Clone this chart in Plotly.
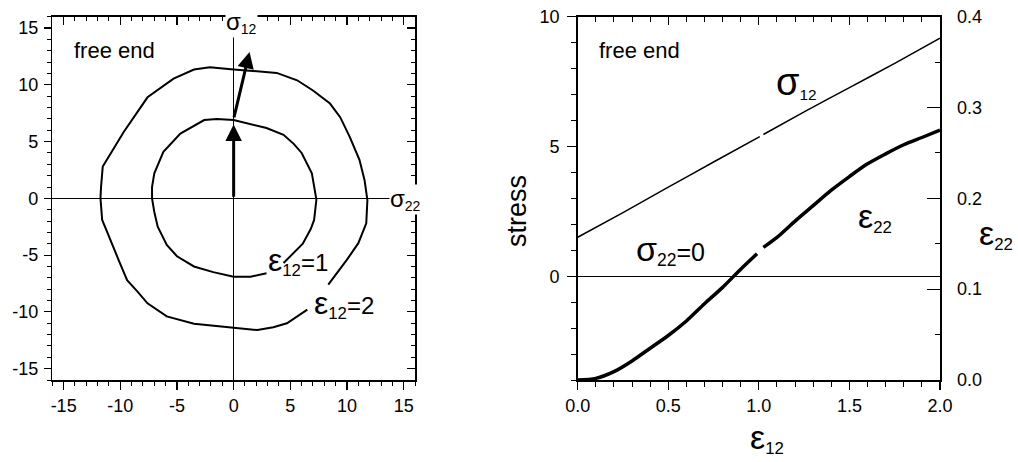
import plotly.graph_objects as go

W, H = 1018, 462

# ---------------- data: left panel (yield surfaces in sigma22-sigma12 plane) ----------------
inner_s22 = [2.9, 1.5, 0.0, -1.8, -3.5, -5.0, -5.9, -6.7, -7.0, -7.2, -7.2, -7.0, -6.2, -4.7,
             -2.6, -1.5, 0.0, 2.9, 4.4, 5.3, 6.0, 6.9, 7.3, 7.1, 6.8, 6.1, 4.4]
inner_s12 = [-6.6, -6.9, -6.9, -6.5, -6.0, -5.1, -4.1, -2.5, -1.2, 0.0, 1.0, 2.2, 4.1, 5.7,
             6.9, 7.0, 6.9, 6.2, 5.6, 4.8, 4.0, 2.2, -0.1, -1.9, -2.7, -4.0, -5.7]

outer_s22 = [6.5, 4.7, 3.5, 2.1, 0.0, -3.5, -5.9, -7.6, -8.5, -9.4, -10.1, -10.8, -11.1, -11.6,
             -11.75, -11.7, -11.55, -10.85, -9.7, -7.6, -5.3, -3.5, -2.1, 0.0, 3.8, 5.6, 7.0,
             8.5, 9.4, 10.25, 11.1, 11.55, 11.8, 11.7, 11.0, 10.0, 8.35]
outer_s12 = [-9.8, -11.0, -11.35, -11.6, -11.4, -11.05, -10.4, -9.25, -8.2, -7.2, -5.55, -3.95,
             -3.1, -1.9, 0.0, 1.0, 2.8, 3.95, 5.85, 8.9, 10.55, 11.35, 11.55, 11.35, 11.05,
             10.4, 9.5, 8.35, 7.15, 5.4, 3.4, 1.6, -0.15, -2.2, -3.95, -5.4, -7.6]

# loading-path arrows (tail -> head)
arrow_tail_s22 = [0.0, 0.0]
arrow_tail_s12 = [0.0, 7.0]
arrow_head_s22 = [0.0, 1.4]
arrow_head_s12 = [6.5, 12.9]

left_ticks = [-15, -10, -5, 0, 5, 10, 15]
left_ticktext = ["-15", "-10", "-5", "0", "5", "10", "15"]

# ---------------- data: right panel ----------------
eps12_a = [0.0, 0.25, 0.5, 0.75, 1.005, None, 1.025, 1.25, 1.5, 1.75, 2.0]
sigma12 = [1.5, 2.45, 3.43, 4.4, 5.38, None, 5.46, 6.33, 7.27, 8.2, 9.17]

eps12_b = [0.0, 0.1, 0.2, 0.3, 0.4, 0.5, 0.6, 0.7, 0.8, 0.9, 0.99, None, 1.025, 1.1, 1.2,
           1.3, 1.4, 1.5, 1.6, 1.7, 1.8, 1.9, 2.0]
eps22 = [0.0, 0.0018, 0.0092, 0.021, 0.035, 0.049, 0.065, 0.084, 0.102, 0.122, 0.139, None,
         0.146, 0.157, 0.175, 0.192, 0.209, 0.224, 0.238, 0.249, 0.259, 0.267, 0.275]

x2_ticks = [0.0, 0.5, 1.0, 1.5, 2.0]
x2_ticktext = ["0.0", "0.5", "1.0", "1.5", "2.0"]
y2_ticks = [0, 5, 10]
y2_ticktext = ["0", "5", "10"]
y4_ticks = [0.0, 0.1, 0.2, 0.3, 0.4]
y4_ticktext = ["0.0", "0.1", "0.2", "0.3", "0.4"]

# ---------------- layout geometry (pixels) ----------------
FONT = "Liberation Sans, Arial, sans-serif"
L_x0, L_x1 = 52.3, 415.0
R_x0, R_x1 = 577.7, 940.0
P_y0, P_y1 = 16.7, 380.0


def fx(px):
    return px / W


def fy(py):
    return 1 - py / H


dom_L = [fx(L_x0), fx(L_x1)]
dom_R = [fx(R_x0), fx(R_x1)]
dom_Y = [fy(P_y1), fy(P_y0)]

tickfont = dict(family=FONT, size=18, color="black")

fig = go.Figure()

fig.add_trace(go.Scatter(x=outer_s22, y=outer_s12, mode="lines",
                         line=dict(color="black", width=2), xaxis="x", yaxis="y",
                         showlegend=False, hoverinfo="skip"))
fig.add_trace(go.Scatter(x=inner_s22, y=inner_s12, mode="lines",
                         line=dict(color="black", width=2), xaxis="x", yaxis="y",
                         showlegend=False, hoverinfo="skip"))
# dummy traces for overlay frame axes
fig.add_trace(go.Scatter(x=[None], y=[None], xaxis="x3", yaxis="y3", showlegend=False))
fig.add_trace(go.Scatter(x=[None], y=[None], xaxis="x4", yaxis="y2", showlegend=False))

fig.add_trace(go.Scatter(x=eps12_a, y=sigma12, mode="lines",
                         line=dict(color="black", width=1.5, shape="spline", smoothing=0.6),
                         xaxis="x2", yaxis="y2", showlegend=False, hoverinfo="skip"))
fig.add_trace(go.Scatter(x=eps12_b, y=eps22, mode="lines",
                         line=dict(color="black", width=3.5, shape="spline", smoothing=0.8),
                         xaxis="x2", yaxis="y4", showlegend=False, hoverinfo="skip"))

common = dict(showgrid=False, showline=True, linecolor="black", linewidth=1.5,
              tickcolor="black", tickwidth=1.2, tickfont=tickfont, automargin=False)

fig.update_layout(
    width=W, height=H, autosize=False,
    margin=dict(l=0, r=0, t=0, b=0),
    paper_bgcolor="white", plot_bgcolor="white",
    showlegend=False,
    # ---- left panel ----
    xaxis=dict(domain=dom_L, range=[-16, 16], anchor="y", side="bottom",
               tickmode="array", tickvals=left_ticks, ticktext=left_ticktext,
               ticks="outside", ticklen=8, ticklabelstandoff=1,
               minor=dict(dtick=1, tick0=0, ticks="outside", ticklen=4,
                          tickcolor="black", tickwidth=1),
               zeroline=True, zerolinecolor="black", zerolinewidth=1, **common),
    yaxis=dict(domain=dom_Y, range=[-16, 16], anchor="x", side="left",
               tickmode="array", tickvals=left_ticks, ticktext=left_ticktext,
               ticks="outside", ticklen=7, ticklabelstandoff=2,
               minor=dict(dtick=1, tick0=0, ticks="outside", ticklen=4,
                          tickcolor="black", tickwidth=1),
               zeroline=True, zerolinecolor="black", zerolinewidth=1, **common),
    xaxis3=dict(overlaying="x", anchor="y", side="top", range=[-16, 16],
                tickmode="array", tickvals=left_ticks, showticklabels=False,
                ticks="inside", ticklen=8,
                minor=dict(dtick=1, tick0=0, ticks="inside", ticklen=4,
                           tickcolor="black", tickwidth=1),
                zeroline=False, **common),
    yaxis3=dict(overlaying="y", anchor="x", side="right", range=[-16, 16],
                tickmode="array", tickvals=left_ticks, showticklabels=False,
                ticks="inside", ticklen=8,
                minor=dict(dtick=1, tick0=0, ticks="inside", ticklen=4,
                           tickcolor="black", tickwidth=1),
                zeroline=False, **common),
    # ---- right panel ----
    xaxis2=dict(domain=dom_R, range=[0, 2], anchor="y2", side="bottom",
                tickmode="array", tickvals=x2_ticks, ticktext=x2_ticktext,
                ticks="outside", ticklen=8, ticklabelstandoff=1,
                minor=dict(dtick=0.1, tick0=0, ticks="outside", ticklen=5,
                           tickcolor="black", tickwidth=1),
                zeroline=False, **common),
    yaxis2=dict(domain=dom_Y, range=[-4, 10], anchor="x2", side="left",
                tickmode="array", tickvals=y2_ticks, ticktext=y2_ticktext,
                ticks="outside", ticklen=9, ticklabelstandoff=4,
                minor=dict(dtick=1, tick0=0, ticks="outside", ticklen=5,
                           tickcolor="black", tickwidth=1),
                zeroline=True, zerolinecolor="black", zerolinewidth=1, **common),
    xaxis4=dict(overlaying="x2", anchor="y2", side="top", range=[0, 2],
                tickmode="array", tickvals=x2_ticks, showticklabels=False,
                ticks="inside", ticklen=8,
                minor=dict(dtick=0.1, tick0=0, ticks="inside", ticklen=5,
                           tickcolor="black", tickwidth=1),
                zeroline=False, **common),
    yaxis4=dict(overlaying="y2", anchor="x2", side="right", range=[0, 0.4],
                tickmode="array", tickvals=y4_ticks, ticktext=y4_ticktext,
                ticks="inside", ticklen=13, ticklabelstandoff=12,
                minor=dict(dtick=0.05, tick0=0, ticks="inside", ticklen=5,
                           tickcolor="black", tickwidth=1),
                zeroline=False, **common),
)

ann = []
# arrows
for tx, ty, hx, hy in zip(arrow_tail_s22, arrow_tail_s12, arrow_head_s22, arrow_head_s12):
    ann.append(dict(x=hx, y=hy, ax=tx, ay=ty, xref="x", yref="y", axref="x", ayref="y",
                    text="", showarrow=True, arrowhead=2, arrowsize=1.1, arrowwidth=3,
                    arrowcolor="black"))


def label(text, px, py, size, bg=None, angle=0):
    d = dict(text=text, x=fx(px), y=fy(py), xref="paper", yref="paper",
             xanchor="center", yanchor="middle", showarrow=False, textangle=angle,
             font=dict(family=FONT, size=size, color="black"))
    if bg:
        d["bgcolor"] = bg
        d["borderpad"] = 0
    return d


def greek(ch, big, sub, tail=""):
    return '<span style="font-size:%dpx">%s</span><sub>%s</sub>%s' % (big, ch, sub, tail)


ann += [
    label("free end", 114.5, 50, 22),
    label(greek("σ", 24, "12"), 241, 22, 20, bg="white"),
    label(greek("σ", 24, "22"), 405, 199, 20, bg="white"),
    label(greek("ε", 32, "12", "=1"), 298, 261, 24),
    label(greek("ε", 32, "12", "=2"), 344, 304, 24),
    label("free end", 639.5, 50, 22),
    label(greek("σ", 38, "12"), 796, 82, 22),
    label(greek("ε", 34, "22"), 875, 217, 24),
    label(greek("σ", 34, "22", "=0"), 670, 250, 25),
    label("stress", 517, 211, 27, angle=-90),
    label(greek("ε", 34, "22"), 996, 234, 24),
    label(greek("ε", 34, "12"), 767, 438, 24),
]
fig.update_layout(annotations=ann)

fig.write_html("out.html",
               config={"displayModeBar": False, "staticPlot": True},
               post_script="document.body.style.margin='0';document.body.style.overflow='hidden';")
